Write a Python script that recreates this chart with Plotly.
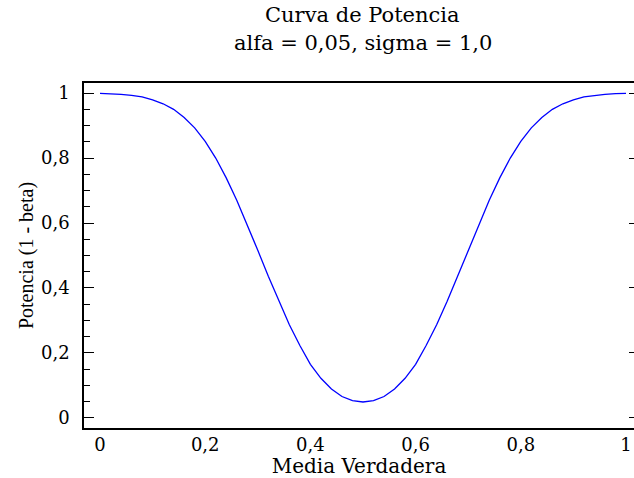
import plotly.graph_objects as go

# Data
media = [0.00, 0.02, 0.04, 0.06, 0.08, 0.10, 0.12, 0.14, 0.16, 0.18,
         0.20, 0.22, 0.24, 0.26, 0.28, 0.30, 0.32, 0.34, 0.36, 0.38,
         0.40, 0.42, 0.44, 0.46, 0.48, 0.50, 0.52, 0.54, 0.56, 0.58,
         0.60, 0.62, 0.64, 0.66, 0.68, 0.70, 0.72, 0.74, 0.76, 0.78,
         0.80, 0.82, 0.84, 0.86, 0.88, 0.90, 0.92, 0.94, 0.96, 0.98, 1.00]
potencia = [0.999, 0.998, 0.996, 0.993, 0.988, 0.979, 0.967, 0.950, 0.925, 0.893,
            0.851, 0.800, 0.739, 0.670, 0.594, 0.516, 0.436, 0.359, 0.287, 0.223,
            0.165, 0.122, 0.089, 0.066, 0.053, 0.049, 0.053, 0.066, 0.089, 0.122,
            0.165, 0.223, 0.287, 0.359, 0.436, 0.516, 0.594, 0.670, 0.739, 0.800,
            0.851, 0.893, 0.925, 0.950, 0.967, 0.979, 0.988, 0.993, 0.996, 0.998, 0.999]

x_ticks = [0, 0.2, 0.4, 0.6, 0.8, 1]
x_labels = ["0", "0,2", "0,4", "0,6", "0,8", "1"]
y_ticks = [0, 0.2, 0.4, 0.6, 0.8, 1]
y_labels = ["0", "0,2", "0,4", "0,6", "0,8", "1"]
titulo = ["Curva de Potencia", "alfa = 0,05, sigma = 1,0"]

wide = "DejaVu Serif, serif"
narrow = "Liberation Serif, Times New Roman, serif"

fig = go.Figure()
fig.add_trace(go.Scatter(x=media, y=potencia, mode="lines",
                         line=dict(color="#0000ff", width=1.3),
                         showlegend=False, hoverinfo="x+y"))
# invisible trace for right-side axis
fig.add_trace(go.Scatter(x=[media[0]], y=[potencia[0]], yaxis="y2", mode="lines",
                         line=dict(width=0), showlegend=False, hoverinfo="skip"))

fig.update_layout(
    width=634, height=478,
    margin=dict(l=84, r=0, t=83, b=50),
    paper_bgcolor="white", plot_bgcolor="white",
    font=dict(family=wide, size=18, color="black"),
    xaxis=dict(range=[-0.0304, 1.0152], showgrid=False, zeroline=False,
               showline=True, linecolor="black", linewidth=1.5, mirror=True,
               ticks="", tickvals=x_ticks, ticktext=x_labels,
               tickfont=dict(family=wide, size=18),
               title=dict(text="Media Verdadera", font=dict(family=wide, size=20), standoff=4)),
    yaxis=dict(range=[-0.031, 1.031], showgrid=False, zeroline=False,
               showline=True, linecolor="black", linewidth=1.5,
               ticks="inside", ticklen=10, tickwidth=1.3, tickcolor="black",
               tickvals=y_ticks, ticktext=y_labels, ticklabelstandoff=9,
               minor=dict(ticks="inside", ticklen=6, tickwidth=1.3, tickcolor="black", dtick=0.05),
               tickfont=dict(family=wide, size=18),
               title=dict(text="Potencia (1 - beta)", font=dict(family=narrow, size=20), standoff=2)),
    yaxis2=dict(range=[-0.031, 1.031], overlaying="y", side="right", showgrid=False,
                zeroline=False, showline=False, ticks="inside", ticklen=5, tickwidth=1.3,
                tickcolor="black", tickvals=y_ticks, showticklabels=False),
)

fig.add_annotation(text=titulo[0], xref="paper", yref="paper", x=0.507, y=1.197,
                   xanchor="center", yanchor="middle", showarrow=False,
                   font=dict(family=wide, size=21, color="black"))
fig.add_annotation(text=titulo[1], xref="paper", yref="paper", x=0.507, y=1.117,
                   xanchor="center", yanchor="middle", showarrow=False,
                   font=dict(family=wide, size=21, color="black"))

fig.write_html("out.html")
